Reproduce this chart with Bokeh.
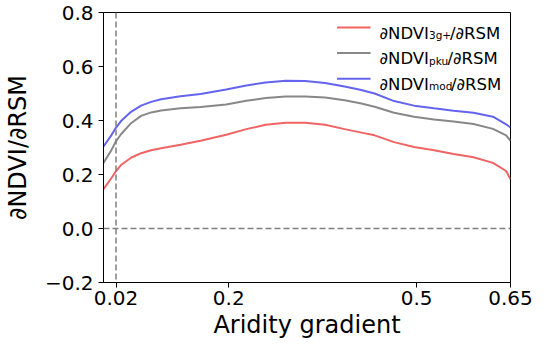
from bokeh.plotting import figure
from bokeh.models import Range1d, FixedTicker, Span, Label
from bokeh.embed import file_html
from bokeh.resources import INLINE

# ---- data ----
aridity = [0.000, 0.013, 0.020, 0.028, 0.044, 0.060, 0.076, 0.092, 0.123, 0.155,
           0.196, 0.228, 0.259, 0.291, 0.322, 0.354, 0.385, 0.410, 0.433, 0.464,
           0.496, 0.528, 0.559, 0.591, 0.622, 0.643, 0.650]
d_3g = [0.146, 0.188, 0.213, 0.235, 0.262, 0.279, 0.290, 0.297, 0.310, 0.325,
        0.347, 0.368, 0.384, 0.392, 0.392, 0.384, 0.368, 0.356, 0.345, 0.320,
        0.302, 0.290, 0.276, 0.264, 0.243, 0.213, 0.182]
d_pku = [0.243, 0.292, 0.323, 0.349, 0.390, 0.417, 0.430, 0.437, 0.445, 0.450,
         0.459, 0.473, 0.483, 0.489, 0.489, 0.485, 0.475, 0.464, 0.451, 0.429,
         0.414, 0.404, 0.396, 0.387, 0.369, 0.345, 0.325]
d_mod = [0.304, 0.347, 0.374, 0.398, 0.432, 0.455, 0.469, 0.479, 0.490, 0.498,
         0.515, 0.530, 0.541, 0.547, 0.546, 0.539, 0.526, 0.514, 0.500, 0.472,
         0.455, 0.445, 0.436, 0.429, 0.414, 0.386, 0.374]

x_ticks = [0.02, 0.2, 0.5, 0.65]
x_tick_labels = ["0.02", "0.2", "0.5", "0.65"]
y_ticks = [-0.2, 0.0, 0.2, 0.4, 0.6, 0.8]
y_tick_labels = ["\u22120.2", "0.0", "0.2", "0.4", "0.6", "0.8"]

series_subs = ["3g+", "pku", "mod"]
series_colors = ["#f06464", "#888888", "#6464ee"]
vline_at = 0.02
hline_at = 0.0

FONT = "DejaVu Sans"

p = figure(width=534, height=344, output_backend="svg", toolbar_location=None,
           x_range=Range1d(0, 0.65), y_range=Range1d(-0.2, 0.8),
           min_border_left=98, min_border_right=24, min_border_top=12,
           min_border_bottom=62)
p.grid.visible = False
p.outline_line_color = "black"
p.outline_line_width = 1
p.background_fill_color = "white"

p.xaxis.ticker = FixedTicker(ticks=x_ticks)
p.xaxis.major_label_overrides = dict(zip(x_ticks, x_tick_labels))
p.yaxis.ticker = FixedTicker(ticks=y_ticks)
p.yaxis.major_label_overrides = dict(zip(y_ticks, y_tick_labels))

for ax in (p.xaxis, p.yaxis):
    ax.axis_line_color = "black"
    ax.major_tick_line_color = "black"
    ax.minor_tick_line_color = None
    ax.major_tick_out = 5
    ax.major_tick_in = 0
    ax.major_label_text_font = FONT
    ax.major_label_text_font_size = "20px"
    ax.major_label_text_color = "black"
    ax.axis_label_text_font = FONT
    ax.axis_label_text_font_size = "24px"
    ax.axis_label_text_font_style = "normal"
    ax.axis_label_text_color = "black"

p.xaxis.major_label_standoff = 3
p.yaxis.major_label_standoff = 5
p.xaxis.axis_label = "Aridity gradient"
p.yaxis.axis_label = "\u2202NDVI/\u2202RSM"
p.xaxis.axis_label_standoff = 3
p.yaxis.axis_label_standoff = 10

p.add_layout(Span(location=vline_at, dimension="height", line_color="#808080",
                  line_dash="6 3", line_width=1.5))
p.add_layout(Span(location=hline_at, dimension="width", line_color="#808080",
                  line_dash="6 3", line_width=1.5))

for ys, c in zip([d_3g, d_pku, d_mod], series_colors):
    p.line(aridity, ys, line_color=c, line_width=2)

# ---- manual legend (supports subscripts) ----
row_y = [0.744, 0.650, 0.555]
sw_x0, sw_x1 = 0.373, 0.4265
txt_x = 0.4408
sub_off = 49.5
slash_off = [70.5, 68, 71.5]
for ry, sub, c, so in zip(row_y, series_subs, series_colors, slash_off):
    p.segment(x0=[sw_x0], y0=[ry], x1=[sw_x1], y1=[ry], line_color=c, line_width=2)
    p.add_layout(Label(x=txt_x, y=ry - 0.020, text="\u2202NDVI", text_font=FONT,
                       text_font_size="16.5px", text_color="black",
                       text_baseline="alphabetic", text_align="left"))
    p.add_layout(Label(x=txt_x, y=ry - 0.029, x_offset=sub_off, text=sub, text_font=FONT,
                       text_font_size="10.5px", text_color="black",
                       text_baseline="alphabetic", text_align="left"))
    p.add_layout(Label(x=txt_x, y=ry - 0.020, x_offset=so, text="/\u2202RSM",
                       text_font=FONT, text_font_size="16.5px", text_color="black",
                       text_baseline="alphabetic", text_align="left"))

open("out.html", "w").write(file_html(p, INLINE))
